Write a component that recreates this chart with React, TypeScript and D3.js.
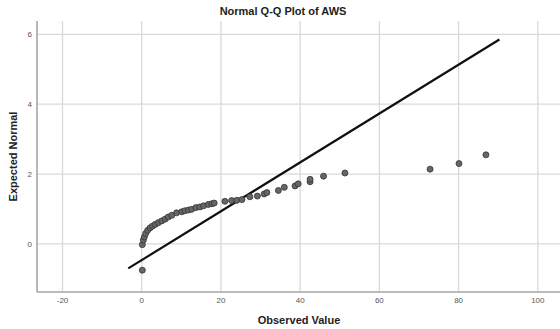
import React from "react";
import * as d3 from "d3";

const observed = [
  0.15, 0.15, 0.4, 0.66, 1.0, 1.5, 2.1, 2.7, 3.4, 4.2, 5.05, 5.9, 6.7, 7.6,
  8.8, 10.1, 10.9, 11.8, 12.6, 13.7, 14.7, 15.6, 16.8, 17.7, 18.3, 21.0, 22.7,
  24.0, 25.3, 27.3, 29.2, 30.9, 31.6, 34.5, 36.0, 38.7, 39.5, 42.5, 42.5, 45.9,
  51.3, 72.8, 80.1, 86.9,
];
const expected = [
  -0.75, -0.02, 0.11, 0.2, 0.3, 0.39, 0.46, 0.51, 0.56, 0.61, 0.66, 0.71, 0.77,
  0.82, 0.89, 0.92, 0.95, 0.97, 0.99, 1.04, 1.06, 1.09, 1.13, 1.15, 1.17, 1.22,
  1.24, 1.25, 1.27, 1.35, 1.37, 1.43, 1.47, 1.53, 1.62, 1.66, 1.72, 1.78, 1.85,
  1.94, 2.03, 2.14, 2.3, 2.55,
];

// reference line endpoints
const refLineX = [-3.4, 90.3];
const refLineY = [-0.7, 5.85];

const xTicks = [-20, 0, 20, 40, 60, 80, 100];
const yTicks = [0, 2, 4, 6];

const W = 560;
const H = 329;
const margin = { top: 21, right: 0, bottom: 37, left: 37 };

export default function App() {
  const x = d3
    .scaleLinear()
    .domain([-26.44, 105.6])
    .range([margin.left, W - margin.right]);
  const y = d3
    .scaleLinear()
    .domain([-1.375, 6.38])
    .range([H - margin.bottom, margin.top]);

  const points = observed.map((v, i) => ({ x: v, y: expected[i] }));
  const line = d3
    .line<number>()
    .x((d) => x(d))
    .y((_, i) => y(refLineY[i]));

  const font = "'Liberation Sans', Arial, sans-serif";
  const top = margin.top;
  const bottom = H - margin.bottom;

  return (
    <svg
      width={W}
      height={H}
      style={{ position: "absolute", left: 0, top: 0, background: "#fff" }}
      fontFamily={font}
    >
      {/* grid */}
      {xTicks.map((t) => (
        <line
          key={"gx" + t}
          x1={x(t)}
          x2={x(t)}
          y1={top}
          y2={bottom}
          stroke="#d9d9d9"
          strokeWidth={1.3}
        />
      ))}
      {yTicks.map((t) => (
        <line
          key={"gy" + t}
          x1={margin.left}
          x2={W}
          y1={y(t)}
          y2={y(t)}
          stroke="#d9d9d9"
          strokeWidth={1.3}
        />
      ))}

      {/* axes */}
      <line x1={margin.left} x2={margin.left} y1={top} y2={bottom} stroke="#a6a6a6" strokeWidth={1.6} />
      <line x1={margin.left} x2={W} y1={bottom} y2={bottom} stroke="#a6a6a6" strokeWidth={1.6} />

      {xTicks.map((t) => (
        <text
          key={"tx" + t}
          x={x(t)}
          y={bottom + 11}
          fontSize={8}
          fill="#555"
          textAnchor="middle"
        >
          {t}
        </text>
      ))}
      {yTicks.map((t) => (
        <text
          key={"ty" + t}
          x={margin.left - 5}
          y={y(t) + 3}
          fontSize={8}
          fill="#555"
          textAnchor="end"
        >
          {t}
        </text>
      ))}

      {/* reference line */}
      <path d={line(refLineX) || ""} fill="none" stroke="#111" strokeWidth={2.2} />

      {/* points */}
      {points.map((p, i) => (
        <circle
          key={i}
          cx={x(p.x)}
          cy={y(p.y)}
          r={3}
          fill="#666"
          stroke="#333"
          strokeWidth={0.8}
        />
      ))}

      {/* titles */}
      <text x={283} y={15} fontSize={11} fontWeight="bold" textAnchor="middle" fill="#222">
        Normal Q-Q Plot of AWS
      </text>
      <text x={299} y={324} fontSize={11} fontWeight="bold" textAnchor="middle" fill="#222">
        Observed Value
      </text>
      <text
        transform={`translate(17, ${(top + bottom) / 2}) rotate(-90)`}
        fontSize={11}
        fontWeight="bold"
        textAnchor="middle"
        fill="#222"
      >
        Expected Normal
      </text>
    </svg>
  );
}
